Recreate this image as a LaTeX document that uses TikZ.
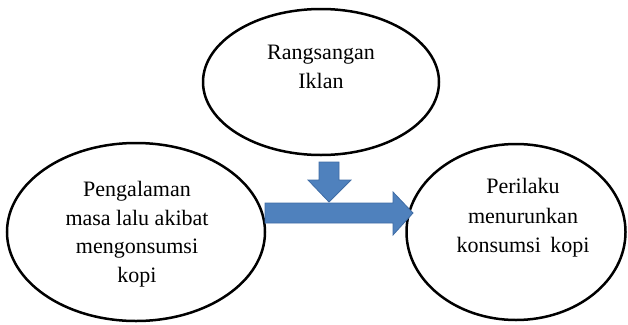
\documentclass[tikz,border=0pt]{standalone}
\usepackage{fontspec}
\setmainfont{Liberation Serif}
\usetikzlibrary{shapes.geometric}
\definecolor{arrowblue}{HTML}{4F81BD}
\definecolor{arrowedge}{HTML}{3F6CA5}
\begin{document}
\begin{tikzpicture}[x=1pt,y=-1pt,
  bubble/.style={ellipse,draw=black,line width=2.5pt,inner sep=0pt},
  bubbletext/.style={align=center,font=\fontsize{22}{28.5}\selectfont},
  blockarrow/.style={fill=arrowblue,draw=arrowedge,line width=0.8pt,line join=miter}]
\useasboundingbox (0,0) rectangle (628,324);
\node[bubble,minimum width=236pt,minimum height=146pt] (top) at (321,82) {};
\node[bubbletext] (toptext) at (321,67) {Rangsangan\\Iklan};
\node[bubble,minimum width=258pt,minimum height=178pt] (left) at (136,232) {};
\node[bubbletext] (lefttext) at (137,234) {Pengalaman\\masa lalu akibat\\mengonsumsi\\kopi};
\node[bubble,minimum width=219pt,minimum height=176pt] (right) at (516,232) {};
\node[bubbletext,font=\fontsize{22}{29.5}\selectfont] (righttext) at (523,218) {Perilaku\\menurunkan\\konsumsi\hspace{4pt} kopi};
% down arrow
\coordinate (dtip) at (329,202);
\draw[blockarrow] (319,162) -- (339,162) -- (339,180) -- (351,180) -- (dtip) -- (308,180) -- (319,180) -- cycle;
% right arrow
\coordinate (rtip) at (413,213);
\draw[blockarrow] (265,203) -- (393,203) -- (393,192) -- (rtip) -- (393,235) -- (393,223) -- (265,223) -- cycle;
\end{tikzpicture}
\end{document}
